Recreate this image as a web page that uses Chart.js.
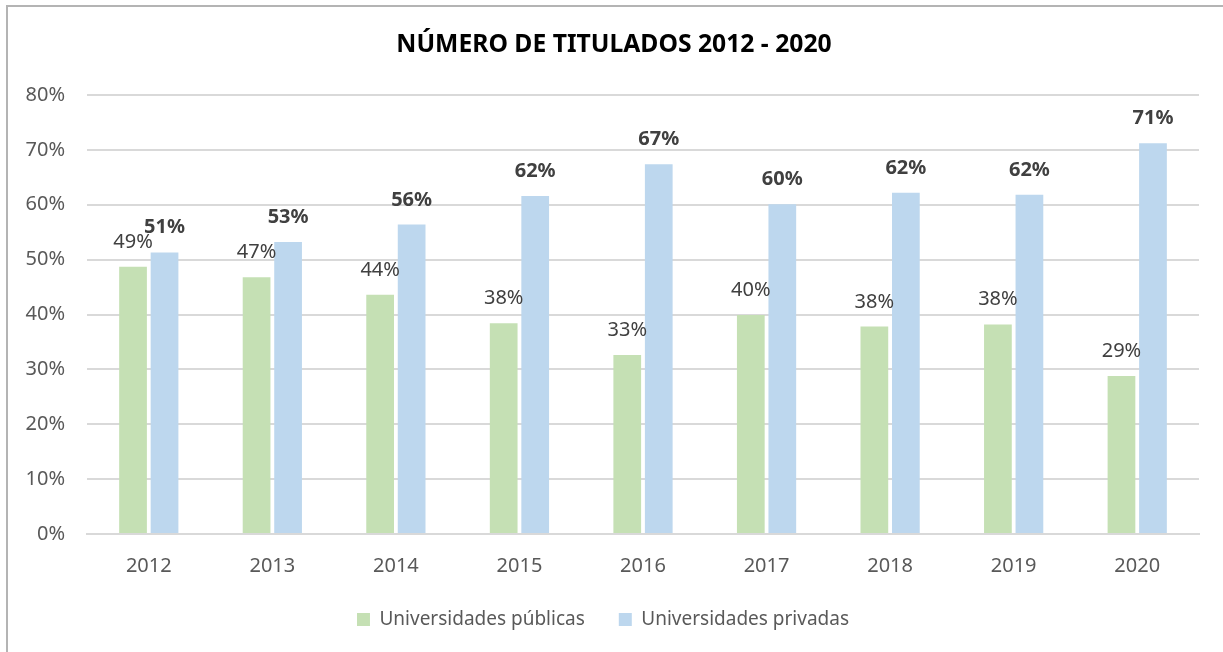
<!DOCTYPE html>
<html>
<head>
<meta charset="utf-8">
<script src="https://cdn.jsdelivr.net/npm/chart.js@4/dist/chart.umd.min.js"></script>
<style>
  html, body { margin: 0; padding: 0; background: #fff; }
  body { width: 1223px; height: 652px; position: relative; overflow: hidden; }
  .frame {
    position: absolute; left: 6px; top: 5px; width: 1300px; height: 700px;
    border-top: 2px solid #b4b4b4; border-left: 2px solid #b4b4b4;
  }
  #wrap { position: absolute; left: 0; top: 0; width: 1223px; height: 652px; }
</style>
</head>
<body>
<div class="frame"></div>
<div id="wrap"><canvas id="chart"></canvas></div>
<script>
const years = ["2012", "2013", "2014", "2015", "2016", "2017", "2018", "2019", "2020"];
const publicas = [48.7, 46.8, 43.6, 38.4, 32.6, 39.9, 37.8, 38.2, 28.8];
const privadas = [51.3, 53.2, 56.4, 61.6, 67.4, 60.1, 62.2, 61.8, 71.2];
const yTicks = [0, 10, 20, 30, 40, 50, 60, 70, 80];
const titleText = "NÚMERO DE TITULADOS 2012 - 2020";

const FONT = "'Noto Sans', 'Open Sans', sans-serif";

// title drawn by hand so it can sit on the page centre
const pageTitle = {
  id: "pageTitle",
  afterDraw(chart) {
    const ctx = chart.ctx;
    ctx.save();
    ctx.font = "bold 24.7px " + FONT;
    ctx.fillStyle = "#000000";
    ctx.textAlign = "center";
    ctx.textBaseline = "middle";
    ctx.fillText(titleText, 614, 45);
    ctx.restore();
  }
};

const barLabels = {
  id: "barLabels",
  afterDatasetsDraw(chart) {
    const ctx = chart.ctx;
    ctx.save();
    ctx.textAlign = "center";
    ctx.textBaseline = "alphabetic";
    chart.data.datasets.forEach((ds, i) => {
      const meta = chart.getDatasetMeta(i);
      ctx.font = (i === 1 ? "bold " : "") + "20px " + FONT;
      ctx.fillStyle = "#404040";
      meta.data.forEach((bar, j) => {
        ctx.fillText(Math.round(ds.data[j]) + "%", bar.x, bar.y - 19);
      });
    });
    ctx.restore();
  }
};

new Chart(document.getElementById("chart"), {
  type: "bar",
  data: {
    labels: years,
    datasets: [
      {
        label: "Universidades públicas",
        data: publicas,
        backgroundColor: "#c5e0b4",
        categoryPercentage: 0.51,
        barPercentage: 0.88
      },
      {
        label: "Universidades privadas",
        data: privadas,
        backgroundColor: "#bdd7ee",
        categoryPercentage: 0.51,
        barPercentage: 0.88
      }
    ]
  },
  options: {
    responsive: true,
    maintainAspectRatio: false,
    animation: false,
    layout: { padding: { left: 7, right: 24, top: 95, bottom: 13 } },
    plugins: {
      title: { display: false },
      legend: {
        position: "bottom",
        labels: {
          color: "#595959",
          font: { family: FONT, size: 19 },
          boxWidth: 13,
          boxHeight: 13,
          padding: 34
        }
      },
      tooltip: { enabled: false }
    },
    scales: {
      x: {
        grid: { display: false, drawTicks: false },
        border: { color: "#d9d9d9", width: 2 },
        afterFit: (s) => { s.height -= 22; },
        ticks: { color: "#595959", font: { family: FONT, size: 20 }, padding: 20 }
      },
      y: {
        min: 0,
        max: 80,
        afterFit: (s) => { s.width = 80; },
        afterBuildTicks: (s) => { s.ticks = yTicks.map((v) => ({ value: v })); },
        grid: { color: "#d9d9d9", lineWidth: 2, drawTicks: false },
        border: { display: false },
        ticks: {
          color: "#595959",
          font: { family: FONT, size: 20 },
          padding: 22,
          callback: (v) => v + "%"
        }
      }
    }
  },
  plugins: [barLabels, pageTitle]
});
</script>
</body>
</html>
